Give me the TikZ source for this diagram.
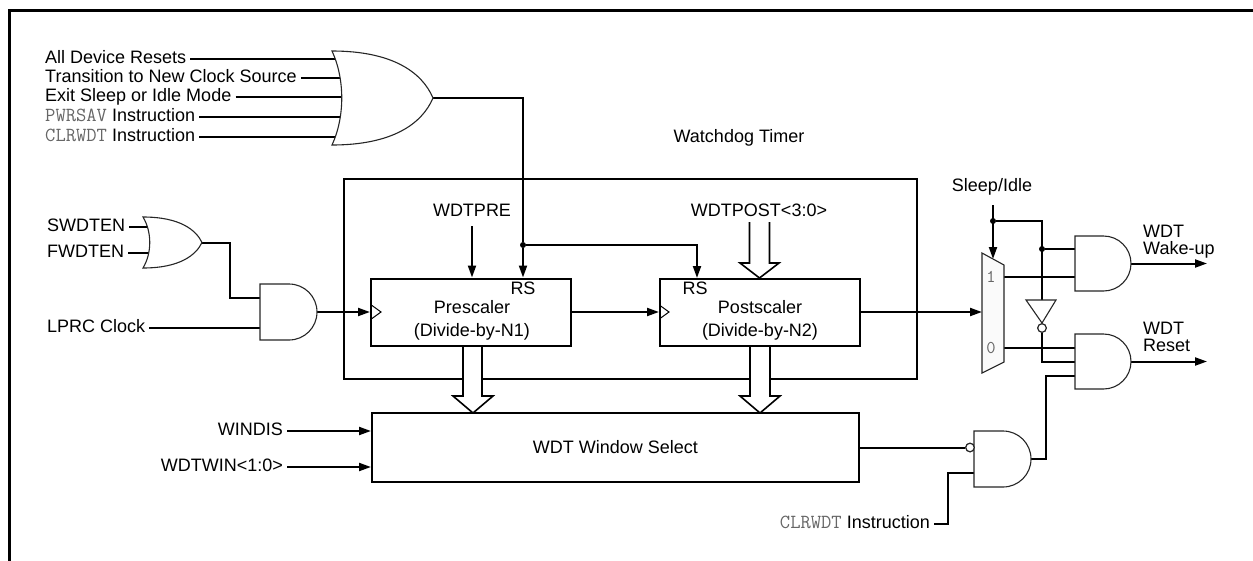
\documentclass[tikz,border=0pt]{standalone}
\usepackage{fontspec}
\setmainfont{Liberation Sans}
\setsansfont{Liberation Sans}
\usetikzlibrary{arrows.meta}
\definecolor{mono}{gray}{0.4}
\newcommand{\monotext}[1]{{\color{mono}\ttfamily\fontsize{20}{18}\selectfont #1}}
\begin{document}
\begin{tikzpicture}[x=1pt,y=-1pt,
  wire/.style={line width=2pt},
  arr/.style={line width=2pt,-{Triangle[length=12pt,width=8pt]}},
  gate/.style={draw=black!85,line width=1.1pt,fill=white},
  blk/.style={draw,line width=2pt,fill=white,inner sep=0pt},
  lbl/.style={font=\fontsize{18}{18}\selectfont,inner xsep=4pt,inner ysep=0pt,text height=9pt,text depth=0pt},
  txt/.style={font=\fontsize{18}{23}\selectfont,inner sep=0pt,align=center},
  txtl/.style={font=\fontsize{18}{17}\selectfont,inner sep=0pt,align=left},
  jdot/.style={circle,fill,inner sep=0pt,minimum size=6pt},
  bubble/.style={circle,draw=black!85,line width=1.1pt,fill=white,inner sep=0pt,minimum size=8.5pt},
  bus/.style={draw,line width=1.6pt,fill=white},
  muxlbl/.style={font=\ttfamily\fontsize{18}{18}\selectfont,text=mono,inner sep=0pt},
]
\useasboundingbox (0,0) rectangle (1253,560);

% outer frame
\draw[line width=3pt] (9,562) -- (9,10) -- (1256,10);

% watchdog timer box
\draw[line width=2pt] (344,179) rectangle (917,379);
\node[txt] (wdtlbl) at (739,138) {Watchdog Timer};

% buses (white filled, over box edge)
\draw[bus] (749.5,222) -- (749.5,263) -- (740,263) -- (759.5,278) -- (779,263) -- (769.5,263) -- (769.5,222);
\draw[bus] (463,346.5) -- (463,396) -- (453,396) -- (473,413) -- (493,396) -- (482,396) -- (482,346.5);
\draw[bus] (750,346.5) -- (750,396) -- (740,396) -- (760,413) -- (780,396) -- (770,396) -- (770,346.5);

% blocks
\node[blk,minimum width=200pt,minimum height=67pt] (pre) at (471,312) {};
\node[blk,minimum width=200pt,minimum height=67pt] (post) at (760,312) {};
\node[blk,minimum width=487pt,minimum height=69pt,font=\fontsize{18}{18}\selectfont] (win) at (615.5,447.5) {WDT Window Select};
\draw[line width=1pt] (372,305.5) -- (381,312) -- (372,318.5);
\draw[line width=1pt] (660,305.5) -- (669,312) -- (660,318.5);
\node[txt] (pretxt) at (472,320) {Prescaler\\(Divide-by-N1)};
\node[txt] (posttxt) at (760,320) {Postscaler\\(Divide-by-N2)};
\node[txt] (prers) at (523,288) {RS};
\node[txt] (postrs) at (695,288) {RS};
\node[txt] (wdtpre) at (472,210) {WDTPRE};
\node[txt] (wdtpost) at (759,210) {WDTPOST<3:0>};

% input labels
\node[lbl,anchor=west] (in1) at (41,59) {All Device Resets};
\node[lbl,anchor=west] (in2) at (41,78) {Transition to New Clock Source};
\node[lbl,anchor=west] (in3) at (41,97) {Exit Sleep or Idle Mode};
\node[lbl,anchor=west] (in4) at (41,117) {\monotext{PWRSAV} Instruction};
\node[lbl,anchor=west] (in5) at (41,137) {\monotext{CLRWDT} Instruction};
\node[lbl,anchor=west] (sw) at (43,227) {SWDTEN};
\node[lbl,anchor=west] (fw) at (43,253) {FWDTEN};
\node[lbl,anchor=west] (lprc) at (43,328) {LPRC Clock};
\node[lbl,anchor=east] (windis) at (287,431) {WINDIS};
\node[lbl,anchor=east] (wdtwin) at (287,467) {WDTWIN<1:0>};
\node[lbl,anchor=east] (clr2) at (934,524) {\monotext{CLRWDT} Instruction};
\node[txt] (slp) at (992,187) {Sleep/Idle};
\node[txtl,anchor=north west] (wake) at (1143,224.5) {WDT\\Wake-up};
\node[txtl,anchor=north west] (rst) at (1143,321.5) {WDT\\Reset};

% pin coordinates
\coordinate (or1a) at (335.5,59);
\coordinate (or1b) at (340.2,78);
\coordinate (or1c) at (341.7,97);
\coordinate (or1d) at (340.2,117);
\coordinate (or1e) at (335.5,137);
\coordinate (or1o) at (433,98);
\coordinate (or2a) at (147.5,227);
\coordinate (or2b) at (148.7,253);
\coordinate (or2o) at (202,242.5);
\coordinate (and1a) at (260,298);
\coordinate (and1b) at (260,328);
\coordinate (and1o) at (317,312);
\coordinate (muxin) at (982,312);
\coordinate (muxtop) at (993,259);
\coordinate (slpS) at (993,205);
\coordinate (mux1) at (1004,277);
\coordinate (mux0) at (1004,348);
\coordinate (invT) at (1042,300);
\coordinate (wkA) at (1075,249);
\coordinate (wkB) at (1075,277);
\coordinate (wkO) at (1131,263.5);
\coordinate (wkE) at (1207,263.5);
\coordinate (rsA) at (1075,348);
\coordinate (rsB) at (1075,362);
\coordinate (rsC) at (1075,376);
\coordinate (rsO) at (1131,361.5);
\coordinate (rsE) at (1207,361.5);
\coordinate (ndB) at (974,473);
\coordinate (ndO) at (1031,459);
\coordinate (postRS) at (697,278);

% junction dots
\node[jdot] (jA) at (523,245) {};
\node[jdot] (jB) at (993,221) {};
\node[jdot] (jC) at (1042,249) {};
\node[bubble] (invb) at (1042,328) {};
\node[bubble] (ndb) at (970,447.5) {};

% wires
\draw[wire] (in1.east) -- (or1a);
\draw[wire] (in2.east) -- (or1b);
\draw[wire] (in3.east) -- (or1c);
\draw[wire] (in4.east) -- (or1d);
\draw[wire] (in5.east) -- (or1e);
\draw[wire] (sw.east) -- (or2a);
\draw[wire] (fw.east) -- (or2b);
\draw[wire] (or2o) -- (230,242.5) |- (and1a);
\draw[wire] (lprc.east) -- (and1b);
\draw[arr] (and1o) -- (pre.west);
\draw[arr] (or1o) -| (jA) -- (jA |- pre.north);
\draw[arr] (jA) -| (postRS);
\draw[arr] ([yshift=-16pt]wdtpre.center) -- (wdtpre.center |- pre.north);
\draw[arr] (pre.east) -- (post.west);
\draw[arr] (post.east) -- (muxin);
\draw[arr] (slpS) -- (muxtop);
\draw[wire] (jB) -| (invT);
\draw[wire] (jC) -- (wkA);
\draw[wire] (mux1) -- (wkB);
\draw[wire] (mux0) -- (rsA);
\draw[wire] (invb.south) |- (rsB);
\draw[arr] (wkO) -- (wkE);
\draw[arr] (rsO) -- (rsE);
\draw[arr] (windis.east) -- (windis.east -| win.west);
\draw[arr] (wdtwin.east) -- (wdtwin.east -| win.west);
\draw[wire] (win.east) -- (ndb.west);
\draw[wire] (clr2.east) -- ++(14,0) |- (ndB);
\draw[wire] (ndO) -- ++(15,0) |- (rsC);

% gates
\draw[gate] (332,51) .. controls (392,51) and (422,72) .. (433,98) .. controls (422,124) and (392,145) .. (332,145) .. controls (345,117) and (345,79) .. cycle;
\draw[gate] (143,217) .. controls (180,217) and (196,230) .. (202,242.5) .. controls (196,255) and (180,268) .. (143,268) .. controls (152,253) and (152,232) .. cycle;
\draw[gate] (260,284) -- (289,284) .. controls (304.5,284) and (317,296.5) .. (317,312) .. controls (317,327.5) and (304.5,340) .. (289,340) -- (260,340) -- cycle;
\draw[gate] (1075,236) -- (1103.5,236) .. controls (1118.7,236) and (1131,248.3) .. (1131,263.5) .. controls (1131,278.7) and (1118.7,291) .. (1103.5,291) -- (1075,291) -- cycle;
\draw[gate] (1075,334) -- (1103.5,334) .. controls (1118.7,334) and (1131,346.3) .. (1131,361.5) .. controls (1131,376.7) and (1118.7,389) .. (1103.5,389) -- (1075,389) -- cycle;
\draw[gate] (974,431) -- (1003,431) .. controls (1018.5,431) and (1031,443.5) .. (1031,459) .. controls (1031,474.5) and (1018.5,487) .. (1003,487) -- (974,487) -- cycle;
\draw[gate,fill=black!2] (982,253) -- (1004,265) -- (1004,362) -- (982,373) -- cycle;
\draw[gate] (1026,300) -- (1056,300) -- (1042,323) -- cycle;
\node[bubble] at (invb) {};
\node[bubble] at (ndb) {};
\node[muxlbl] (m1) at (991,277) {1};
\node[muxlbl] (m0) at (991,348) {0};
\end{tikzpicture}
\end{document}
